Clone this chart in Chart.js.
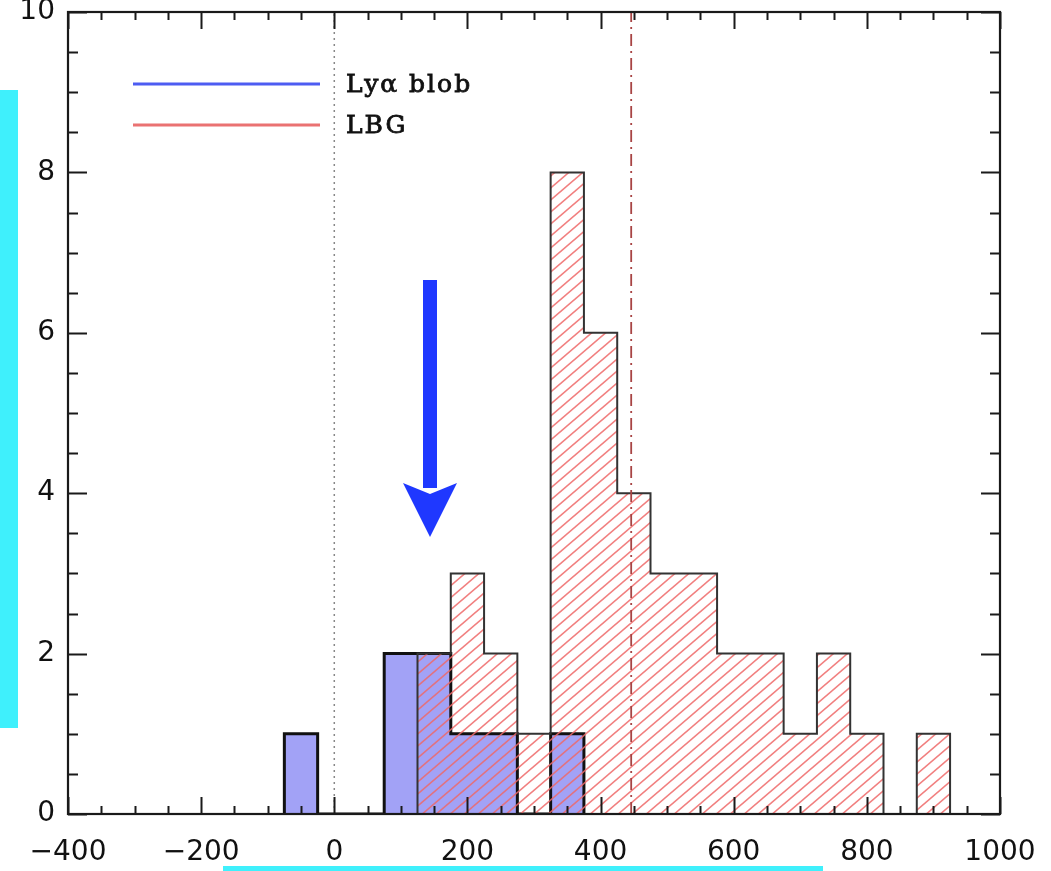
<!DOCTYPE html>
<html>
<head>
<meta charset="utf-8">
<script src="https://cdn.jsdelivr.net/npm/chart.js@4/dist/chart.umd.min.js"></script>
<style>
html,body{margin:0;padding:0;background:#fff;}
#wrap{width:1051px;height:871px;position:relative;}
</style>
</head>
<body>
<div id="wrap"><canvas id="c" width="1051" height="871"></canvas></div>
<script>
// ---- data ----
const binEdges = [-75,-25,25,75,125,175,225,275,325,375,425,475,525,575,625,675,725,775,825,875,925];
const blobCounts = [1,0,0,2,2,1,1,0,1,0,0,0,0,0,0,0,0,0,0,0];
const lbgCounts  = [0,0,0,0,2,3,2,1,8,6,4,3,3,2,2,1,2,1,0,1];
const seriesNames = ['Lyα blob','LBG'];
const zeroLineX = 0;
const lbgMeanX = 446;
const xTicks = [-400,-200,0,200,400,600,800,1000];
const yTicks = [0,2,4,6,8,10];

function toSteps(edges, counts){
  let first = counts.findIndex(v => v !== 0);
  let last = counts.length - 1;
  while (last > first && counts[last] === 0) last--;
  const pts = [{x: edges[first], y: 0}];
  for (let i = first; i <= last; i++) pts.push({x: edges[i], y: counts[i]});
  pts.push({x: edges[last + 1], y: 0});
  return pts;
}

// hatch pattern for LBG
function makeHatch(){
  const W = 14, H = 12;
  const cv = document.createElement('canvas');
  cv.width = W; cv.height = H;
  const g = cv.getContext('2d');
  g.strokeStyle = 'rgba(238,105,105,0.85)';
  g.lineWidth = 1.6;
  for (const off of [-W, 0, W]) {
    g.beginPath();
    g.moveTo(off - W, 2 * H);
    g.lineTo(off + 2 * W, -H);
    g.stroke();
  }
  return g.createPattern(cv, 'repeat');
}
const hatch = makeHatch();

const decor = {
  id: 'decor',
  afterDatasetsDraw(chart){
    const ctx = chart.ctx, a = chart.chartArea;
    const xs = chart.scales.x, ys = chart.scales.y;
    ctx.save();
    ctx.strokeStyle = '#1a1a1a';
    ctx.lineWidth = 2;
    for (let v = -400; v <= 1000; v += 50) {
      const px = Math.round(xs.getPixelForValue(v)) + 0.5;
      const len = (v % 200 === 0) ? 17 : 8;
      ctx.beginPath();
      ctx.moveTo(px, a.bottom); ctx.lineTo(px, a.bottom - len);
      ctx.moveTo(px, a.top); ctx.lineTo(px, a.top + len);
      ctx.stroke();
    }
    for (let v = 0; v <= 10; v += 0.5) {
      const py = Math.round(ys.getPixelForValue(v)) + 0.5;
      const len = (v % 2 === 0) ? 19 : 10;
      ctx.beginPath();
      ctx.moveTo(a.left, py); ctx.lineTo(a.left + len, py);
      ctx.moveTo(a.right, py); ctx.lineTo(a.right - len, py);
      ctx.stroke();
    }
    ctx.lineWidth = 2.2;
    ctx.strokeRect(a.left, a.top, a.right - a.left, a.bottom - a.top);
    ctx.restore();
  },
  afterDraw(chart){
    const ctx = chart.ctx;
    ctx.save();
    const lx0 = 133, lx1 = 320;
    const rows = [{y: 84, c: '#4d5cf2', t: seriesNames[0]}, {y: 125, c: '#ea7272', t: seriesNames[1]}];
    ctx.font = '25px "DejaVu Serif"';
    ctx.textBaseline = 'middle';
    try { ctx.letterSpacing = '2px'; } catch(e) {}
    for (const r of rows) {
      ctx.strokeStyle = r.c; ctx.lineWidth = 3;
      ctx.beginPath(); ctx.moveTo(lx0, r.y); ctx.lineTo(lx1, r.y); ctx.stroke();
      ctx.fillStyle = '#111';
      ctx.fillText(r.t, 346, r.y + 1);
      ctx.strokeStyle = '#111'; ctx.lineWidth = 0.8;
      ctx.strokeText(r.t, 346, r.y + 1);
    }
    try { ctx.letterSpacing = '0px'; } catch(e) {}
    ctx.fillStyle = '#1f38ff';
    ctx.fillRect(423, 280, 14, 208);
    ctx.beginPath();
    ctx.moveTo(403, 483); ctx.lineTo(430, 494); ctx.lineTo(457, 483); ctx.lineTo(430, 537);
    ctx.closePath(); ctx.fill();
    ctx.fillStyle = '#3ff0fc';
    ctx.fillRect(0, 90, 18, 638);
    ctx.fillRect(223, 866, 600, 5);
    ctx.restore();
  }
};

const minusFmt = v => (v < 0 ? '\u2212' + Math.abs(v) : String(v));

new Chart(document.getElementById('c'), {
  type: 'line',
  data: {
    datasets: [
      {
        label: seriesNames[1],
        data: toSteps(binEdges, lbgCounts),
        stepped: 'before',
        fill: 'origin',
        backgroundColor: hatch,
        borderColor: '#333',
        borderWidth: 2,
        pointRadius: 0,
        order: 1
      },
      {
        label: seriesNames[0],
        data: toSteps(binEdges, blobCounts),
        stepped: 'before',
        fill: 'origin',
        backgroundColor: 'rgba(162,162,246,1)',
        borderColor: '#111',
        borderWidth: 3,
        pointRadius: 0,
        order: 2
      },
      {
        label: 'zero',
        data: [{x: zeroLineX, y: 0}, {x: zeroLineX, y: 10}],
        borderColor: '#888',
        borderWidth: 1.5,
        borderDash: [2, 4],
        pointRadius: 0,
        fill: false,
        order: 0
      },
      {
        label: 'mean',
        data: [{x: lbgMeanX, y: 0}, {x: lbgMeanX, y: 10}],
        borderColor: '#a84444',
        borderWidth: 1.8,
        borderDash: [12, 5, 2, 5],
        pointRadius: 0,
        fill: false,
        order: 0
      }
    ]
  },
  options: {
    responsive: false,
    animation: false,
    layout: {padding: {top: 12, right: 51, left: 0, bottom: 0}},
    plugins: {legend: {display: false}, tooltip: {enabled: false}},
    scales: {
      x: {
        type: 'linear', min: -400, max: 1000,
        afterBuildTicks: s => { s.ticks = xTicks.map(v => ({value: v})); },
        grid: {display: false, drawTicks: false},
        border: {display: false},
        ticks: {
          color: '#111', padding: 22, maxRotation: 0, autoSkip: false,
          font: {family: '"DejaVu Sans"', size: 28},
          callback: v => minusFmt(v)
        },
        afterFit: s => { s.height = 57; s.paddingLeft = 0; s.paddingRight = 0; }
      },
      y: {
        type: 'linear', min: 0, max: 10,
        afterBuildTicks: s => { s.ticks = yTicks.map(v => ({value: v})); },
        grid: {display: false, drawTicks: false},
        border: {display: false},
        ticks: {
          color: '#111', padding: 13, autoSkip: false,
          font: {family: '"DejaVu Sans"', size: 28},
          callback: v => minusFmt(v)
        },
        afterFit: s => { s.width = 68; s.paddingTop = 0; s.paddingBottom = 0; }
      }
    }
  },
  plugins: [decor]
});
</script>
</body>
</html>
